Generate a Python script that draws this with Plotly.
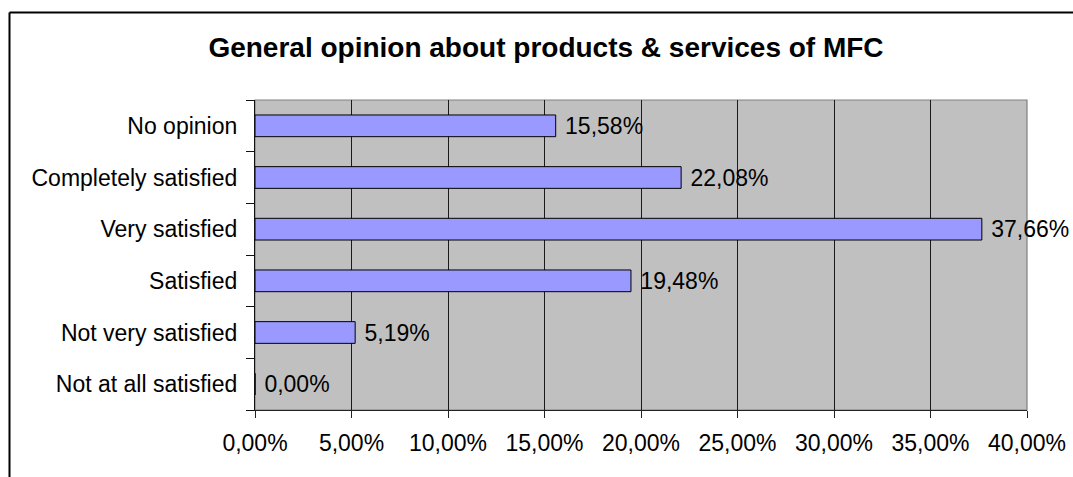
import plotly.graph_objects as go

# Survey categories (bottom to top) and their shares in percent
categories = [
    "Not at all satisfied",
    "Not very satisfied",
    "Satisfied",
    "Very satisfied",
    "Completely satisfied",
    "No opinion",
]
shares = [0.00, 5.19, 19.48, 37.66, 22.08, 15.58]
x_ticks = [0, 5, 10, 15, 20, 25, 30, 35, 40]


def pct(v):
    return f"{v:.2f}%".replace(".", ",")


bar_labels = [" " + pct(v) for v in shares]
x_tick_labels = [pct(v) for v in x_ticks]

W, H = 1073, 477
L, R, T, B = 255, 46, 100, 67
pw, ph = W - L - R, H - T - B

FONT = "Liberation Sans, Arial, sans-serif"
FS = 23

fig = go.Figure(
    go.Bar(
        y=categories,
        x=shares,
        orientation="h",
        marker=dict(color="#9999FF", line=dict(color="#000000", width=1)),
        text=bar_labels,
        textposition="outside",
        constraintext="none",
        cliponaxis=False,
        textfont=dict(family=FONT, size=FS, color="#000000"),
        hoverinfo="skip",
    )
)


def px_x(p):
    return (p - L) / pw


def px_y(p):
    return (H - B - p) / ph


shapes = [
    # grey plot-area border
    dict(type="rect", xref="paper", yref="paper", x0=0, x1=1, y0=0, y1=1,
         line=dict(color="#808080", width=1.2), layer="below"),
    # outer chart frame (left and top edges)
    dict(type="line", xref="paper", yref="paper",
         x0=px_x(9.5), x1=px_x(9.5), y0=px_y(12.5), y1=px_y(H + 5),
         line=dict(color="#000000", width=2)),
    dict(type="line", xref="paper", yref="paper",
         x0=px_x(9.5), x1=px_x(W + 5), y0=px_y(12.5), y1=px_y(12.5),
         line=dict(color="#000000", width=2)),
]

fig.update_layout(
    width=W,
    height=H,
    margin=dict(l=L, r=R, t=T, b=B, pad=0, autoexpand=False),
    paper_bgcolor="#FFFFFF",
    plot_bgcolor="#C0C0C0",
    bargap=0.58,
    showlegend=False,
    font=dict(family=FONT, size=FS, color="#000000"),
    title=dict(
        text="<b>General opinion about products & services of MFC</b>",
        font=dict(family=FONT, size=28, color="#000000"),
        xref="container", yref="container",
        x=546 / W, xanchor="center",
        y=1 - 47 / H, yanchor="middle",
    ),
    shapes=shapes,
    xaxis=dict(
        range=[0, 40],
        tickvals=x_ticks,
        ticktext=x_tick_labels,
        showgrid=True,
        gridcolor="#1a1a1a",
        gridwidth=1,
        zeroline=False,
        showline=True,
        linecolor="#222222",
        linewidth=1.2,
        ticks="outside",
        ticklen=7,
        tickcolor="#222222",
        tickfont=dict(family=FONT, size=FS, color="#000000"),
        ticklabelstandoff=5,
        automargin=False,
        fixedrange=True,
    ),
    yaxis=dict(
        categoryorder="array",
        categoryarray=categories,
        showgrid=False,
        zeroline=False,
        showline=True,
        linecolor="#111111",
        linewidth=1.2,
        ticks="outside",
        tickson="boundaries",
        ticklen=8,
        tickcolor="#111111",
        tickfont=dict(family=FONT, size=FS, color="#000000"),
        ticklabelstandoff=12,
        automargin=False,
        fixedrange=True,
    ),
)

fig.write_html("out.html", config={"displayModeBar": False})
